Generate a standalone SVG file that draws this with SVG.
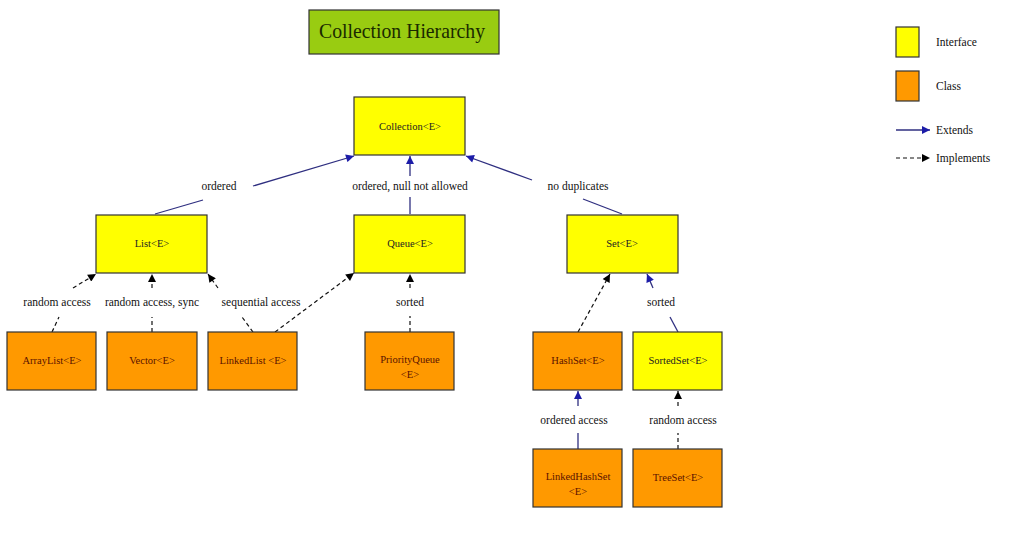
<svg xmlns="http://www.w3.org/2000/svg" width="1027" height="539" viewBox="0 0 1027 539">
<defs>
<marker id="ab" viewBox="0 0 10 10" refX="10" refY="5" markerWidth="9" markerHeight="8" markerUnits="userSpaceOnUse" orient="auto"><path d="M0,0 L10,5 L0,10 Z" fill="#1c1ca8"/></marker>
<marker id="ak" viewBox="0 0 10 10" refX="10" refY="5" markerWidth="9" markerHeight="8" markerUnits="userSpaceOnUse" orient="auto"><path d="M0,0 L10,5 L0,10 Z" fill="#000"/></marker>
<style>
.iface{fill:#ffff00;stroke:#333;stroke-width:1.2}
.cls{fill:#ff9900;stroke:#333;stroke-width:1.2}
.nt{font-family:"Liberation Serif",serif;font-size:10.5px;text-anchor:middle;fill:#222}
.ct{font-family:"Liberation Serif",serif;font-size:10.5px;text-anchor:middle;fill:#5a1200}
.lb{font-family:"Liberation Serif",serif;font-size:11.5px;text-anchor:middle;fill:#111}
.lg{font-family:"Liberation Serif",serif;font-size:11.5px;fill:#111}
.ext{stroke:#2f2f80;stroke-width:1.3;fill:none}
.ext.a{marker-end:url(#ab)}
.imp{stroke:#111;stroke-width:1.2;stroke-dasharray:4,3;fill:none}
.imp.a{marker-end:url(#ak)}
</style>
</defs>
<rect width="1027" height="539" fill="#fff"/>
<g id="title">
<rect x="309" y="10" width="190" height="44" fill="#99cc11" stroke="#333" stroke-width="1.2"/>
<text x="402" y="38" font-family="Liberation Serif,serif" font-size="21" text-anchor="middle" fill="#1a2a00" textLength="166" lengthAdjust="spacingAndGlyphs">Collection Hierarchy</text>
</g>
<g id="legend">
<rect x="896" y="27" width="23" height="30" class="iface"/>
<text x="936" y="46" class="lg">Interface</text>
<rect x="896" y="71" width="23" height="30" class="cls"/>
<text x="936" y="90" class="lg">Class</text>
<line x1="896" y1="130" x2="930" y2="130" class="ext a"/>
<text x="936" y="134" class="lg">Extends</text>
<line x1="896" y1="158" x2="930" y2="158" class="imp a"/>
<text x="936" y="162" class="lg">Implements</text>
</g>
<g id="connectors">
<line x1="155" y1="214" x2="203" y2="200" class="ext"/>
<line x1="253" y1="186" x2="354" y2="156" class="ext a"/>
<text x="219" y="190" class="lb">ordered</text>
<line x1="410" y1="214" x2="410" y2="197" class="ext"/>
<line x1="410" y1="176" x2="410" y2="156" class="ext a"/>
<text x="410" y="190" class="lb">ordered, null not allowed</text>
<line x1="622" y1="214" x2="583" y2="199" class="ext"/>
<line x1="532" y1="180" x2="466" y2="156" class="ext a"/>
<text x="578" y="190" class="lb">no duplicates</text>
<line x1="52" y1="332" x2="59" y2="317" class="imp"/>
<line x1="73" y1="288" x2="96" y2="274" class="imp a"/>
<text x="57" y="306" class="lb">random access</text>
<line x1="152" y1="332" x2="152" y2="317" class="imp"/>
<line x1="152" y1="288" x2="152" y2="274" class="imp a"/>
<text x="152" y="306" class="lb">random access, sync</text>
<line x1="253" y1="332" x2="242" y2="317" class="imp"/>
<line x1="218" y1="288" x2="208" y2="274" class="imp a"/>
<text x="261" y="306" class="lb">sequential access</text>
<line x1="275" y1="332" x2="354" y2="273" class="imp a"/>
<line x1="410" y1="332" x2="410" y2="316" class="imp"/>
<line x1="410" y1="288" x2="410" y2="274" class="imp a"/>
<text x="410" y="306" class="lb">sorted</text>
<line x1="578" y1="332" x2="610" y2="274" class="imp a"/>
<line x1="678" y1="332" x2="670" y2="317" class="ext"/>
<line x1="653" y1="288" x2="647" y2="274" class="ext a"/>
<text x="661" y="306" class="lb">sorted</text>
<line x1="578" y1="449" x2="578" y2="433" class="ext"/>
<line x1="578" y1="406" x2="578" y2="391" class="ext a"/>
<text x="574" y="424" class="lb">ordered access</text>
<line x1="678" y1="449" x2="678" y2="433" class="imp"/>
<line x1="678" y1="406" x2="678" y2="391" class="imp a"/>
<text x="683" y="424" class="lb">random access</text>
</g>
<g id="collection"><rect x="354" y="97" width="111" height="58" class="iface"/><text x="410" y="130" class="nt">Collection&lt;E&gt;</text></g>
<g id="list"><rect x="96" y="215" width="111" height="58" class="iface"/><text x="152" y="247" class="nt">List&lt;E&gt;</text></g>
<g id="queue"><rect x="354" y="215" width="111" height="58" class="iface"/><text x="410" y="247" class="nt">Queue&lt;E&gt;</text></g>
<g id="set"><rect x="567" y="215" width="111" height="58" class="iface"/><text x="622" y="247" class="nt">Set&lt;E&gt;</text></g>
<g id="arraylist"><rect x="7" y="332" width="89" height="58" class="cls"/><text x="52" y="364" class="ct">ArrayList&lt;E&gt;</text></g>
<g id="vector"><rect x="107" y="332" width="90" height="58" class="cls"/><text x="152" y="364" class="ct">Vector&lt;E&gt;</text></g>
<g id="linkedlist"><rect x="208" y="332" width="89" height="58" class="cls"/><text x="253" y="364" class="ct">LinkedList &lt;E&gt;</text></g>
<g id="priorityqueue"><rect x="365" y="332" width="89" height="58" class="cls"/><text x="410" y="363" class="ct">PriorityQueue</text><text x="410" y="378" class="ct">&lt;E&gt;</text></g>
<g id="hashset"><rect x="533" y="332" width="89" height="58" class="cls"/><text x="578" y="364" class="ct">HashSet&lt;E&gt;</text></g>
<g id="sortedset"><rect x="633" y="332" width="89" height="58" class="iface"/><text x="678" y="364" class="nt">SortedSet&lt;E&gt;</text></g>
<g id="linkedhashset"><rect x="533" y="449" width="89" height="58" class="cls"/><text x="578" y="480" class="ct">LinkedHashSet</text><text x="578" y="495" class="ct">&lt;E&gt;</text></g>
<g id="treeset"><rect x="633" y="449" width="89" height="58" class="cls"/><text x="678" y="481" class="ct">TreeSet&lt;E&gt;</text></g>
</svg>
